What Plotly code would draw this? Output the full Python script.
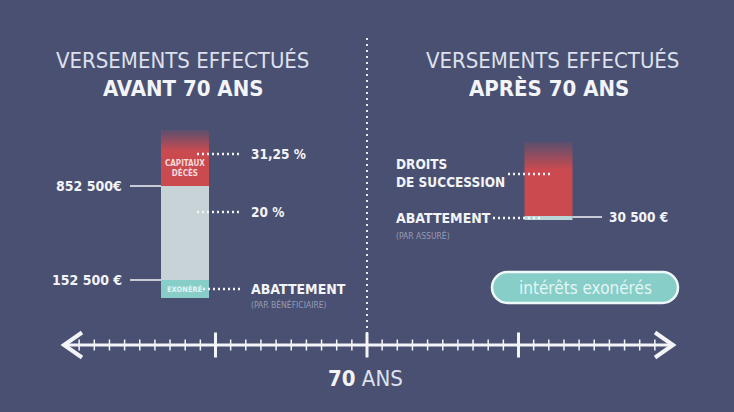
import plotly.graph_objects as go

# ---------------- data ----------------
LEFT_SEGMENTS = ["EXONÉRÉ", "20 %", "31,25 %"]
LEFT_SEG_HEIGHTS = [18, 94, 56]          # display units (bar stacked from its base)
LEFT_THRESHOLDS = ["152 500 €", "852 500€"]
RIGHT_SEGMENTS = ["ABATTEMENT", "DROITS DE SUCCESSION"]
RIGHT_SEG_HEIGHTS = [4, 74]
RIGHT_THRESHOLD = "30 500 €"
PILL_TEXT = "intérêts exonérés"
AGE_START, AGE_END = 50, 90.2
MAJOR_AGES = [60, 70, 80]
MINOR_AGES = [a for a in range(51, 90) if a not in MAJOR_AGES]
PIVOT_AGE = 70

# ---------------- style ----------------
W, H = 734, 412
BG = "#4a5071"
WHITE = "#f3f4f8"
TITLE_C = "#dde1ee"
RED = "203,74,80"
GRAY = "#c8d3d8"
TEAL = "#87cec9"
SUB_C = "#969cb6"
FONT = "DejaVu Sans Condensed, DejaVu Sans, sans-serif"
PX_PER_YEAR = 15.15

LEFT_X, RIGHT_X, BAR_W = 185, 548.5, 48
LEFT_BASE, RIGHT_BASE = 114, 192

fig = go.Figure()


def yu(px):
    return H - px


def cond(s):
    return f"<span style='font-stretch:condensed'>{s}</span>"


def bar(x, base, h, color):
    fig.add_trace(go.Bar(x=[x], y=[h], base=[base], width=[BAR_W],
                         marker=dict(color=color, line=dict(width=0)),
                         hoverinfo="skip", showlegend=False))


def grad_bar(x, base, h):
    x0, x1 = x - BAR_W / 2, x + BAR_W / 2
    fig.add_trace(go.Scatter(
        x=[x0, x1, x1, x0, x0], y=[base, base, base + h, base + h, base],
        mode="lines", fill="toself", line=dict(width=0),
        fillgradient=dict(type="vertical",
                          colorscale=[[0, f"rgba({RED},1)"], [0.62, f"rgba({RED},1)"],
                                      [1, f"rgba({RED},0.12)"]]),
        hoverinfo="skip", showlegend=False))


def seg(x0, x1, y0, y1, color=WHITE, width=1.5, dash=None, xaxis="x"):
    fig.add_trace(go.Scatter(x=[x0, x1], y=[y0, y1], mode="lines", xaxis=xaxis,
                             line=dict(color=color, width=width, dash=dash),
                             hoverinfo="skip", showlegend=False))


def text(x, y, s, size, color=WHITE, anchor="left", bold=False, weight=None):
    s = f"<b>{s}</b>" if bold else s
    fig.add_annotation(x=x, y=y, xref="x", yref="y",
                       text="<br>".join(cond(p) for p in s.split("<br>")),
                       showarrow=False, xanchor=anchor, yanchor="middle", align=anchor,
                       font=dict(family=FONT, size=size, color=color,
                                 weight=weight if weight else "normal"))


# ---------------- left bar ----------------
b = LEFT_BASE
bar(LEFT_X, b, LEFT_SEG_HEIGHTS[0], TEAL)
b += LEFT_SEG_HEIGHTS[0]
bar(LEFT_X, b, LEFT_SEG_HEIGHTS[1], GRAY)
b += LEFT_SEG_HEIGHTS[1]
grad_bar(LEFT_X, b, LEFT_SEG_HEIGHTS[2])

# ---------------- right bar ----------------
rb = RIGHT_BASE
bar(RIGHT_X, rb, RIGHT_SEG_HEIGHTS[0], "#b8d6d8")
rb += RIGHT_SEG_HEIGHTS[0]
grad_bar(RIGHT_X, rb, RIGHT_SEG_HEIGHTS[1])

DOT = "2px,3px"
# left annotations
y_exo = LEFT_BASE + LEFT_SEG_HEIGHTS[0] / 2
y_152 = LEFT_BASE + LEFT_SEG_HEIGHTS[0]
y_852 = y_152 + LEFT_SEG_HEIGHTS[1]
y_20 = y_852 - 26
y_31 = y_852 + 32
seg(130, LEFT_X - BAR_W / 2, y_852, y_852)
seg(130, LEFT_X - BAR_W / 2, y_152, y_152)
text(124, y_852, LEFT_THRESHOLDS[1], 14, anchor="right", weight=600)
text(124, y_152, LEFT_THRESHOLDS[0], 14, anchor="right", weight=600)
seg(197, 242, y_31, y_31, width=2.5, dash=DOT)
seg(197, 242, y_20, y_20, width=2.5, dash=DOT)
seg(203, 242, y_exo, y_exo, width=2.5, dash=DOT)
text(249, y_31, LEFT_SEGMENTS[2], 13.5, weight=600)
text(249, y_20, LEFT_SEGMENTS[1], 13.5, weight=600)
text(249, y_exo, "ABATTEMENT", 14, bold=True)
text(249, y_exo - 15, "(PAR BÉNÉFICIAIRE)", 8.5, color=SUB_C)
text(LEFT_X, y_852 + 18, "<b>CAPITAUX</b><br><b>DÉCÈS</b>", 8, color="#f6dadb", anchor="center")
text(LEFT_X, y_exo, LEFT_SEGMENTS[0], 7.5, color="#e2f4f3", anchor="center", bold=True)

# right annotations
y_abat = RIGHT_BASE + RIGHT_SEG_HEIGHTS[0] / 2
y_dr = RIGHT_BASE + RIGHT_SEG_HEIGHTS[0] + 42
seg(508, 553, y_dr, y_dr, width=2.5, dash=DOT)
seg(493, 540, y_abat, y_abat, width=2.5, dash=DOT)
seg(RIGHT_X + BAR_W / 2, 602, y_abat + 1, y_abat + 1)
text(394, y_dr + 1, "<b>DROITS</b><br><b>DE SUCCESSION</b>", 13.5)
text(394, y_abat, "ABATTEMENT", 14, bold=True)
text(394, y_abat - 17, "(PAR ASSURÉ)", 8.5, color=SUB_C)
text(607, y_abat + 1, RIGHT_THRESHOLD, 13.5, weight=600)

# titles
text(182, yu(60), "VERSEMENTS EFFECTUÉS", 22, color=TITLE_C, anchor="center", weight=300)
text(183, yu(88), "AVANT 70 ANS", 22, anchor="center", bold=True)
text(552, yu(60), "VERSEMENTS EFFECTUÉS", 22, color=TITLE_C, anchor="center", weight=300)
text(549, yu(88), "APRÈS 70 ANS", 22, anchor="center", bold=True)

# pill
px0, px1, pyt, pyb = 492, 678, yu(272), yu(303)
r = (pyt - pyb) / 2
k = 0.5523 * r
cy = (pyt + pyb) / 2
path = (f"M {px0 + r},{pyt} L {px1 - r},{pyt} "
        f"C {px1 - r + k},{pyt} {px1},{cy + k} {px1},{cy} "
        f"C {px1},{cy - k} {px1 - r + k},{pyb} {px1 - r},{pyb} "
        f"L {px0 + r},{pyb} "
        f"C {px0 + r - k},{pyb} {px0},{cy - k} {px0},{cy} "
        f"C {px0},{cy + k} {px0 + r - k},{pyt} {px0 + r},{pyt} Z")
fig.add_shape(type="path", path=path, xref="x", yref="y",
              fillcolor=TEAL, line=dict(color="#eef8f8", width=2.5))
text((px0 + px1) / 2, cy, PILL_TEXT, 17, color="#e4f5f4", anchor="center")

# ---------------- timeline (age axis) ----------------
TL_Y = yu(345)
seg(PIVOT_AGE, PIVOT_AGE, yu(38), yu(336), color="#e8eaf2", width=2, dash="2px,4px", xaxis="x2")
seg(AGE_START, AGE_END, TL_Y, TL_Y, width=3, xaxis="x2")
for a in MINOR_AGES:
    seg(a, a, TL_Y - 5.5, TL_Y + 5.5, width=1.5, xaxis="x2")
for a in MAJOR_AGES:
    seg(a, a, TL_Y - 12.5, TL_Y + 12.5, width=3, xaxis="x2")
ah = 18 / PX_PER_YEAR
fig.add_trace(go.Scatter(x=[AGE_START + ah, AGE_START, AGE_START + ah],
                         y=[TL_Y + 12.5, TL_Y, TL_Y - 12.5], xaxis="x2", mode="lines",
                         line=dict(color=WHITE, width=4), hoverinfo="skip", showlegend=False))
fig.add_trace(go.Scatter(x=[AGE_END - ah, AGE_END, AGE_END - ah],
                         y=[TL_Y + 12.5, TL_Y, TL_Y - 12.5], xaxis="x2", mode="lines",
                         line=dict(color=WHITE, width=4), hoverinfo="skip", showlegend=False))
fig.add_annotation(x=PIVOT_AGE - 0.1, y=yu(378), xref="x2", yref="y",
                   text=cond("<b>70</b> <span style='color:#dde1ee'>ANS</span>"), showarrow=False,
                   xanchor="center", yanchor="middle",
                   font=dict(family=FONT, size=22, color=WHITE))

half = (W / 2) / PX_PER_YEAR
fig.update_layout(
    width=W, height=H, margin=dict(l=0, r=0, t=0, b=0),
    paper_bgcolor=BG, plot_bgcolor=BG, barmode="overlay", showlegend=False,
    xaxis=dict(range=[0, W], visible=False, fixedrange=True),
    xaxis2=dict(range=[PIVOT_AGE - half, PIVOT_AGE + half], overlaying="x",
                visible=False, fixedrange=True),
    yaxis=dict(range=[0, H], visible=False, fixedrange=True),
)
fig.write_html("out.html", config={"displayModeBar": False})
